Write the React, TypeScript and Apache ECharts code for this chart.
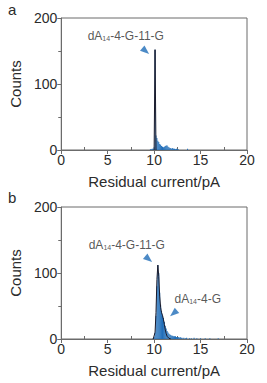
import React, { useEffect, useRef } from "react";
import * as echarts from "echarts";

// Panel a histogram (bin centres in pA, counts)
const binsA = [9.6, 9.7, 9.8, 9.9, 10.0, 10.1, 10.2, 10.3, 10.4, 10.5, 10.6, 10.7, 10.8, 10.9, 11.0, 11.1, 11.2, 11.3, 11.4, 11.5, 11.6, 11.7, 11.8, 11.9, 12.0, 12.1, 12.2, 12.3, 12.4, 12.5, 12.6, 13.6];
const countsA = [1, 1, 2, 2, 4, 152, 22, 18, 14, 12, 9, 8, 6, 5, 4, 5, 6, 7, 7, 5, 4, 3, 3, 2, 3, 2, 2, 1, 2, 1, 1, 2];
// Panel a fit curve
const fitAx = [10.0, 10.1, 10.2];
const fitAy = [0, 152, 0];

// Panel b histogram
const binsB = [9.9, 10.0, 10.1, 10.2, 10.3, 10.4, 10.5, 10.6, 10.7, 10.8, 10.9, 11.0, 11.1, 11.2, 11.3, 11.4, 11.5, 11.6, 11.7, 11.8, 11.9, 12.0, 12.1, 12.2, 12.3, 12.4, 12.5, 12.6, 12.7, 12.8, 12.9, 13.0, 13.2, 13.4, 13.5, 13.8, 14.0, 14.3, 14.6, 15.0, 15.5, 16.0, 16.9];
const countsB = [1, 3, 10, 35, 80, 112, 100, 70, 52, 42, 36, 32, 26, 20, 16, 12, 10, 8, 7, 6, 5, 5, 4, 4, 4, 3, 3, 3, 2, 3, 2, 2, 2, 1, 2, 1, 1, 2, 1, 1, 1, 1, 1];
// Panel b fit curve
const fitBx = [9.9, 10.1, 10.2, 10.3, 10.4, 10.5, 10.6, 10.7, 10.8, 10.9, 11.0, 11.1, 11.2, 11.3, 11.4, 11.6, 11.8];
const fitBy = [0, 10, 40, 90, 112, 95, 65, 48, 40, 36, 30, 22, 14, 8, 4, 1, 0];

// Axis settings
const X_MIN = 0, X_MAX = 20, X_INT = 5;
const X_MINOR = [2.5, 7.5, 12.5, 17.5];
const Y_MIN = 0, Y_MAX = 200, Y_INT = 100;
const X_NAME = "Residual current/pA";
const Y_NAME = "Counts";
const PANELS = ["a", "b"];

// Annotations: [x (pA), y (counts)]
const labelA = [[6.95, 173]];
const arrowA = [[9.09, 150, -130]];
const labelB = [[7.06, 142], [14.7, 61]];
const arrowB = [[9.41, 121, -130], [12.09, 39, 130]];
const labelTextA = ["{n|dA}{s|14}{n|-4-G-11-G}"];
const labelTextB = ["{n|dA}{s|14}{n|-4-G-11-G}", "{n|dA}{s|14}{n|-4-G}"];

const FONT = "'Liberation Sans', Arial, sans-serif";
const BLUE = "#1f6db8";
const AX = "#6b6b6b";
const TXT = "#2b2b2b";

export default function App() {
  const ref = useRef<HTMLDivElement>(null);
  useEffect(() => {
    if (!ref.current) return;
    const chart = echarts.init(ref.current, null, { renderer: "svg" });
    const grids = [
      { left: 60, top: 18, width: 187, height: 132 },
      { left: 60, top: 207, width: 187, height: 132 },
    ];
    const mainX = (gi: number) => ({
      gridIndex: gi,
      type: "value",
      min: X_MIN,
      max: X_MAX,
      interval: X_INT,
      position: "bottom",
      axisLine: { lineStyle: { color: AX, width: 1 } },
      axisTick: { length: 4, lineStyle: { color: AX } },
      axisLabel: { color: TXT, fontSize: 14, margin: 3, fontFamily: FONT },
      splitLine: { show: false },
      name: X_NAME,
      nameLocation: "middle",
      nameGap: 24,
      nameTextStyle: { color: TXT, fontSize: 15, fontFamily: FONT },
    });
    const minorX = (gi: number) => ({
      gridIndex: gi,
      type: "value",
      min: X_MIN,
      max: X_MAX,
      position: "bottom",
      axisLine: { show: false },
      axisLabel: { show: false },
      axisTick: { show: true, inside: true, length: 3, customValues: X_MINOR, lineStyle: { color: AX } },
      splitLine: { show: false },
    });
    const yAx = (gi: number) => ({
      gridIndex: gi,
      type: "value",
      min: Y_MIN,
      max: Y_MAX,
      interval: Y_INT,
      axisLine: { show: true, lineStyle: { color: AX, width: 1 } },
      axisTick: { show: true, length: 4, lineStyle: { color: AX } },
      minorTick: { show: true, splitNumber: 2, length: 3, lineStyle: { color: AX } },
      axisLabel: { color: TXT, fontSize: 14, margin: 4, fontFamily: FONT },
      splitLine: { show: false },
      name: Y_NAME,
      nameLocation: "middle",
      nameGap: 31,
      nameRotate: 90,
      nameTextStyle: { color: TXT, fontSize: 15, fontFamily: FONT },
    });
    const rich = {
      n: { fontSize: 12, color: TXT, fontFamily: FONT, verticalAlign: "bottom" },
      s: { fontSize: 7, color: TXT, fontFamily: FONT, verticalAlign: "bottom", padding: [0, 0, 0, 0] },
    };
    const labelSeries = (gi: number, pts: number[][], texts: string[]) => ({
      type: "scatter",
      xAxisIndex: gi,
      yAxisIndex: gi,
      symbolSize: 0,
      silent: true,
      z: 10,
      data: pts.map((p) => [p[0], p[1]]),
      label: {
        show: true,
        position: "inside",
        formatter: (p: any) => texts[p.dataIndex],
        rich,
      },
    });
    const arrowSeries = (gi: number, pts: number[][]) => ({
      type: "scatter",
      xAxisIndex: gi,
      yAxisIndex: gi,
      symbol: "triangle",
      symbolSize: [7, 9],
      silent: true,
      z: 10,
      itemStyle: { color: BLUE },
      data: pts.map((p) => ({ value: [p[0], p[1]], symbolRotate: p[2] })),
    });
    const barSeries = (gi: number, xs: number[], ys: number[]) => ({
      type: "bar",
      xAxisIndex: gi,
      yAxisIndex: gi,
      barWidth: 1,
      itemStyle: { color: BLUE },
      data: xs.map((x, i) => [x, ys[i]]),
    });
    const fitSeries = (gi: number, xs: number[], ys: number[]) => ({
      type: "line",
      xAxisIndex: gi,
      yAxisIndex: gi,
      symbol: "none",
      z: 5,
      lineStyle: { color: "#1a1a2a", width: 1 },
      data: xs.map((x, i) => [x, ys[i]]),
    });
    chart.setOption({
      animation: false,
      textStyle: { fontFamily: FONT },
      grid: grids.map((g) => ({ ...g, show: true, borderColor: AX, borderWidth: 1, backgroundColor: "transparent" })),
      xAxis: [mainX(0), mainX(1), minorX(0), minorX(1)],
      yAxis: [yAx(0), yAx(1)],
      graphic: PANELS.map((t, i) => ({
        type: "text",
        left: 8,
        top: i === 0 ? 2 : 190,
        style: { text: t, fontSize: 15, fill: TXT, fontFamily: FONT },
      })),
      series: [
        barSeries(0, binsA, countsA),
        fitSeries(0, fitAx, fitAy),
        labelSeries(0, labelA, labelTextA),
        arrowSeries(0, arrowA),
        barSeries(1, binsB, countsB),
        fitSeries(1, fitBx, fitBy),
        labelSeries(1, labelB, labelTextB),
        arrowSeries(1, arrowB),
      ],
    });
    return () => chart.dispose();
  }, []);
  return <div ref={ref} style={{ position: "absolute", left: 0, top: 0, width: 267, height: 383, background: "#fff" }} />;
}
